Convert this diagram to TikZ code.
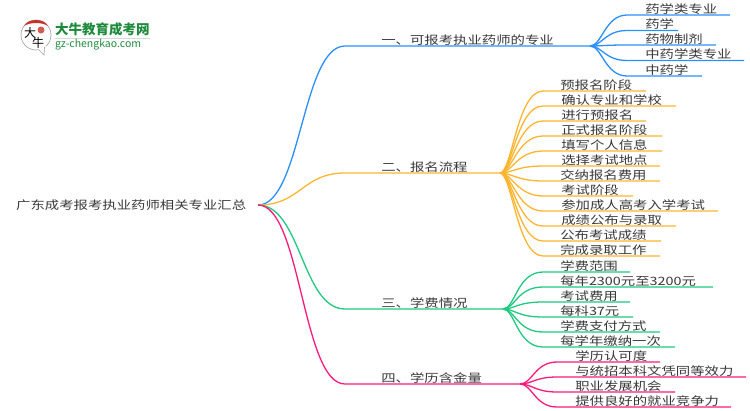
\documentclass[tikz,border=0pt]{standalone}
\usepackage{fontspec}
\setmainfont{Noto Sans CJK SC}
\usetikzlibrary{calc}
\definecolor{lineblue}{HTML}{2B8FFB}
\definecolor{lineorange}{HTML}{FDB52F}
\definecolor{linegreen}{HTML}{1FC97F}
\definecolor{linepink}{HTML}{FB1A7C}
\definecolor{logogreen}{HTML}{1E8A3C}
\definecolor{logored}{HTML}{C8312B}
\tikzset{
  txt/.style={anchor=west,inner sep=0pt,text=black!78,font=\fontsize{11.5}{12}\selectfont,xscale=1.25,transform shape},
  wire/.style={line width=1.3pt},
  curve/.style={out=0,in=180,distance=43pt},
  twig/.style={out=0,in=180,out distance=12pt,in distance=#1}
}
\begin{document}
\begin{tikzpicture}[x=1pt,y=-1pt]
\useasboundingbox (0,0) rectangle (750,410);
% logo
\draw[black!35,line width=0.7pt,fill=white] (36,35) circle (15);
\fill[white] (38,48) -- (44,56) -- (46,45) -- cycle;
\draw[black!35,line width=0.7pt] (39,50) -- (44,55) -- (44.5,47);
\fill[logored] (24,26) .. controls (28,18) and (44,18) .. (48,26) .. controls (42,22) and (30,22) .. (24,26) -- cycle;
\fill[logored!80] (41,30) circle (3.5);
\node[inner sep=0pt,font=\fontsize{12}{12}\selectfont,text=black] (logoa) at (30,33) {大};
\node[inner sep=0pt,font=\fontsize{12}{12}\selectfont,text=black] (logob) at (38,43) {牛};
\node[anchor=west,inner sep=0pt,font=\fontsize{13.5}{14}\selectfont\bfseries,text=logogreen] (logotitle) at (55,29) {大牛教育成考网};
\draw[black!15,line width=0.7pt] (55,38) -- (150,38);
\node[anchor=west,inner sep=0pt,font=\fontsize{10.5}{11}\selectfont,text=logogreen] (logourl) at (55,45) {gz-chengkao.com};
% root
\node[txt] (root) at (16,205) {广东成考报考执业药师相关专业汇总};
\coordinate (rootend) at (258,205);
% branches
\node[txt] (a) at (381,40) {一、可报考执业药师的专业};
\node[txt] (b) at (381,167) {二、报名流程};
\node[txt] (c) at (381,303) {三、学费情况};
\node[txt] (d) at (381,378) {四、学历含金量};
\coordinate (as) at (345,46); \coordinate (ah) at (590,46);
\coordinate (bs) at (345,173); \coordinate (bh) at (500,173);
\coordinate (cs) at (345,309); \coordinate (ch) at (503,309);
\coordinate (ds) at (345,384); \coordinate (dh) at (520,384);
\draw[wire,lineblue] (rootend) to[curve] (as) -- (ah);
\draw[wire,lineorange] (rootend) to[curve] (bs) -- (bh);
\draw[wire,linegreen] (rootend) to[curve] (cs) -- (ch);
\draw[wire,linepink] (rootend) to[curve] (ds) -- (dh);
% leaves one
\node[txt] (a1) at (645,9) {药学类专业};
\node[txt] (a2) at (645,24.5) {药学};
\node[txt] (a3) at (645,39) {药物制剂};
\node[txt] (a4) at (645,54.5) {中药学类专业};
\node[txt] (a5) at (645,70) {中药学};
\coordinate (a1s) at (627,15); \coordinate (a1e) at (730,15);
\coordinate (a2s) at (627,30.5); \coordinate (a2e) at (678,30.5);
\coordinate (a3s) at (627,45); \coordinate (a3e) at (716,45);
\coordinate (a4s) at (627,60.5); \coordinate (a4e) at (744,60.5);
\coordinate (a5s) at (627,76); \coordinate (a5e) at (702,76);
\draw[wire,lineblue] (ah) to[twig=22pt] (a1s) -- (a1e);
\draw[wire,lineblue] (ah) to[twig=22pt] (a2s) -- (a2e);
\draw[wire,lineblue] (ah) to[twig=22pt] (a3s) -- (a3e);
\draw[wire,lineblue] (ah) to[twig=22pt] (a4s) -- (a4e);
\draw[wire,lineblue] (ah) to[twig=22pt] (a5s) -- (a5e);
% leaves two
\node[txt] (b1) at (560,85) {预报名阶段};
\node[txt] (b2) at (561,100) {确认专业和学校};
\node[txt] (b3) at (561,115) {进行预报名};
\node[txt] (b4) at (561,130) {正式报名阶段};
\node[txt] (b5) at (561,145) {填写个人信息};
\node[txt] (b6) at (561,160) {选择考试地点};
\node[txt] (b7) at (560,175) {交纳报名费用};
\node[txt] (b8) at (561,190) {考试阶段};
\node[txt] (b9) at (561,205) {参加成人高考入学考试};
\node[txt] (b10) at (561,220) {成绩公布与录取};
\node[txt] (b11) at (560,235) {公布考试成绩};
\node[txt] (b12) at (560,250) {完成录取工作};
\coordinate (b1s) at (543,91); \coordinate (b1e) at (646,91);
\coordinate (b2s) at (543,106); \coordinate (b2e) at (676,106);
\coordinate (b3s) at (543,121); \coordinate (b3e) at (646,121);
\coordinate (b4s) at (543,136); \coordinate (b4e) at (662,136);
\coordinate (b5s) at (543,151); \coordinate (b5e) at (662,151);
\coordinate (b6s) at (543,166); \coordinate (b6e) at (660,166);
\coordinate (b7s) at (543,181); \coordinate (b7e) at (660,181);
\coordinate (b8s) at (543,196); \coordinate (b8e) at (633,196);
\coordinate (b9s) at (543,211); \coordinate (b9e) at (718,211);
\coordinate (b10s) at (543,226); \coordinate (b10e) at (676,226);
\coordinate (b11s) at (543,241); \coordinate (b11e) at (661,241);
\coordinate (b12s) at (543,256); \coordinate (b12e) at (660,256);
\draw[wire,lineorange] (bh) to[twig=26pt] (b1s) -- (b1e);
\draw[wire,lineorange] (bh) to[twig=26pt] (b2s) -- (b2e);
\draw[wire,lineorange] (bh) to[twig=26pt] (b3s) -- (b3e);
\draw[wire,lineorange] (bh) to[twig=26pt] (b4s) -- (b4e);
\draw[wire,lineorange] (bh) to[twig=26pt] (b5s) -- (b5e);
\draw[wire,lineorange] (bh) to[twig=26pt] (b6s) -- (b6e);
\draw[wire,lineorange] (bh) to[twig=26pt] (b7s) -- (b7e);
\draw[wire,lineorange] (bh) to[twig=26pt] (b8s) -- (b8e);
\draw[wire,lineorange] (bh) to[twig=26pt] (b9s) -- (b9e);
\draw[wire,lineorange] (bh) to[twig=26pt] (b10s) -- (b10e);
\draw[wire,lineorange] (bh) to[twig=26pt] (b11s) -- (b11e);
\draw[wire,lineorange] (bh) to[twig=26pt] (b12s) -- (b12e);
% leaves three
\node[txt] (c1) at (560,266) {学费范围};
\node[txt] (c2) at (560,281) {每年2300元至3200元};
\node[txt] (c3) at (560,296) {考试费用};
\node[txt] (c4) at (560,311) {每科37元};
\node[txt] (c5) at (560,326) {学费支付方式};
\node[txt] (c6) at (560,341) {每学年缴纳一次};
\coordinate (c1s) at (543,272); \coordinate (c1e) at (630,272);
\coordinate (c2s) at (543,287); \coordinate (c2e) at (713,287);
\coordinate (c3s) at (543,302); \coordinate (c3e) at (630,302);
\coordinate (c4s) at (543,317); \coordinate (c4e) at (633,317);
\coordinate (c5s) at (543,332); \coordinate (c5e) at (660,332);
\coordinate (c6s) at (543,347); \coordinate (c6e) at (675,347);
\draw[wire,linegreen] (ch) to[twig=26pt] (c1s) -- (c1e);
\draw[wire,linegreen] (ch) to[twig=26pt] (c2s) -- (c2e);
\draw[wire,linegreen] (ch) to[twig=26pt] (c3s) -- (c3e);
\draw[wire,linegreen] (ch) to[twig=26pt] (c4s) -- (c4e);
\draw[wire,linegreen] (ch) to[twig=26pt] (c5s) -- (c5e);
\draw[wire,linegreen] (ch) to[twig=26pt] (c6s) -- (c6e);
% leaves four
\node[txt] (d1) at (575,356) {学历认可度};
\node[txt] (d2) at (575,371) {与统招本科文凭同等效力};
\node[txt] (d3) at (575,386) {职业发展机会};
\node[txt] (d4) at (575,401) {提供良好的就业竞争力};
\coordinate (d1s) at (557,362); \coordinate (d1e) at (660,362);
\coordinate (d2s) at (557,377); \coordinate (d2e) at (746,377);
\coordinate (d3s) at (557,392); \coordinate (d3e) at (675,392);
\coordinate (d4s) at (557,407); \coordinate (d4e) at (731,407);
\draw[wire,linepink] (dh) to[twig=22pt] (d1s) -- (d1e);
\draw[wire,linepink] (dh) to[twig=22pt] (d2s) -- (d2e);
\draw[wire,linepink] (dh) to[twig=22pt] (d3s) -- (d3e);
\draw[wire,linepink] (dh) to[twig=22pt] (d4s) -- (d4e);
\end{tikzpicture}
\end{document}
